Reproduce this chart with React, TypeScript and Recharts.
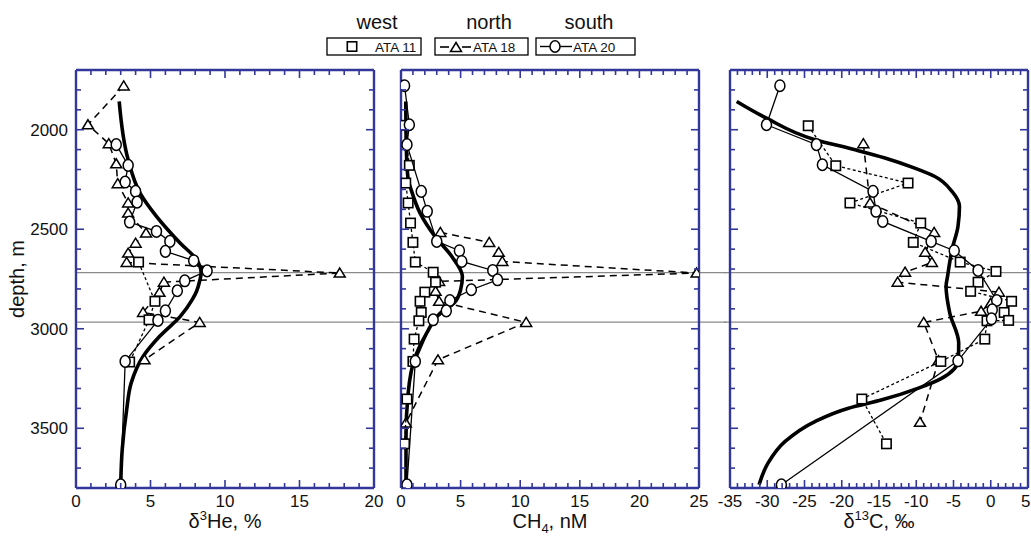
import { ScatterChart, Scatter, XAxis, YAxis, ReferenceLine, Label } from "recharts";

const FONT = '"Liberation Sans", Arial, Helvetica, sans-serif';
const BLUE = "#33379a";

type Pt = [number, number]; // [value, depth]

// depth axis
const depthDomain = [1700, 3800];
const depthTicks = [2000, 2500, 3000, 3500];
// grey marker depths
const markDepths = [2718, 2967];

// panel 1: delta 3He, %
const heTicks = [0, 5, 10, 15, 20];
const heAta11: Pt[] = [[4.2, 2665], [5.3, 2862], [4.9, 2955], [3.6, 3167]];
const heAta18: Pt[] = [
  [3.2, 1780], [0.8, 1975], [2.2, 2070], [2.7, 2171], [2.8, 2271], [3.5, 2368], [3.5, 2419],
  [4.7, 2519], [4.0, 2570], [3.5, 2620], [3.4, 2667], [17.7, 2720], [5.9, 2766], [5.6, 2817],
  [4.5, 2918], [8.3, 2968], [4.6, 3156],
];
const heAta20: Pt[] = [
  [2.7, 2075], [3.5, 2179], [3.3, 2263], [4.0, 2310], [4.1, 2364], [3.6, 2464], [5.4, 2511],
  [6.3, 2561], [6.0, 2611], [7.9, 2658], [8.8, 2709], [7.3, 2759], [6.8, 2809], [6.0, 2910],
  [5.5, 2958], [3.3, 3164], [3.0, 3784],
];
const heModel: Pt[] = [
  [2.9, 1858], [3.5, 2151], [4.3, 2318], [5.4, 2435], [7.0, 2570], [8.1, 2653], [8.4, 2720],
  [8.3, 2760], [8.1, 2810], [7.8, 2854], [7.0, 2938], [5.6, 3039], [4.5, 3139], [3.7, 3273],
  [3.4, 3407], [3.1, 3608], [3.0, 3784],
];

// panel 2: CH4, nM
const chTicks = [0, 5, 10, 15, 20, 25];
const chAta11: Pt[] = [
  [0.3, 1978], [0.7, 2179], [0.4, 2268], [0.6, 2368], [0.8, 2469], [1.0, 2566], [1.2, 2665],
  [2.7, 2716], [2.9, 2766], [2.0, 2816], [1.6, 2862], [1.7, 2918], [1.5, 2960], [1.1, 3052],
  [1.0, 3164], [0.5, 3353], [0.3, 3578],
];
const chAta18: Pt[] = [
  [3.3, 2516], [7.4, 2566], [8.2, 2616], [8.5, 2662], [24.8, 2720], [3.2, 2762], [2.9, 2812],
  [3.2, 2862], [10.5, 2968], [3.1, 3156], [0.4, 3474],
];
const chAta20: Pt[] = [
  [0.3, 1779], [0.7, 1975], [0.5, 2075], [1.7, 2310], [2.2, 2410], [3.0, 2561], [4.9, 2608],
  [5.1, 2662], [7.7, 2707], [8.1, 2754], [5.9, 2804], [4.1, 2858], [3.8, 2910], [2.7, 2955],
  [1.2, 3164], [0.5, 3784],
];
const chModel: Pt[] = [
  [0.4, 1858], [0.45, 2100], [0.6, 2250], [0.85, 2301], [1.6, 2419], [2.85, 2536], [4.25, 2636],
  [5.15, 2737], [5.0, 2804], [4.45, 2871], [3.3, 2921], [2.15, 3022], [1.2, 3139], [0.6, 3323],
  [0.42, 3541], [0.42, 3784],
];

// panel 3: delta 13C, permil
const cTicks = [-35, -30, -25, -20, -15, -10, -5, 0, 5];
const cAta11: Pt[] = [
  [-24.5, 1980], [-20.8, 2181], [-11.1, 2268], [-18.9, 2368], [-9.4, 2469], [-10.4, 2566],
  [-4.1, 2665], [0.7, 2712], [-1.7, 2766], [-2.7, 2812], [2.8, 2862], [1.8, 2918], [2.4, 2958],
  [-0.5, 2960], [-0.8, 3052], [-6.7, 3164], [-17.3, 3353], [-14.0, 3578],
];
const cAta18: Pt[] = [
  [-17.1, 2070], [-16.2, 2368], [-7.6, 2516], [-8.8, 2616], [-7.9, 2667], [-11.5, 2716],
  [-12.5, 2766], [1.1, 2816], [0.0, 2872], [-1.3, 2912], [-9.0, 2968], [-7.0, 3160], [-9.5, 3470],
];
const cAta20: Pt[] = [
  [-28.3, 1779], [-30.1, 1975], [-23.4, 2075], [-22.6, 2176], [-15.8, 2310], [-15.4, 2410],
  [-14.5, 2461], [-8.0, 2561], [-4.9, 2608], [-1.7, 2707], [0.8, 2858], [0.2, 2905], [0.1, 2950],
  [-4.4, 3161], [-28.1, 3784],
];
const cModel: Pt[] = [
  [-34.1, 1858], [-30.1, 1942], [-23.6, 2050], [-18.2, 2101], [-14.2, 2142], [-10.2, 2193],
  [-7.5, 2235], [-5.2, 2310], [-4.2, 2385], [-4.4, 2486], [-5.2, 2603], [-5.8, 2737], [-6.0, 2787],
  [-5.5, 2921], [-4.3, 3072], [-4.35, 3156], [-6.6, 3249], [-9.7, 3298], [-14.6, 3357],
  [-19.1, 3399], [-23.6, 3466], [-27.6, 3566], [-29.9, 3675], [-31.1, 3784],
];

const range = (a: number, b: number, step: number) => {
  const out: number[] = [];
  for (let v = a; v <= b + 1e-9; v += step) out.push(Math.round(v * 1000) / 1000);
  return out;
};
const rows = (pts: Pt[]) => pts.map(([v, d]) => ({ v, d }));

const Square = ({ cx, cy }: any) => (
  <rect x={cx - 4.7} y={cy - 4.7} width={9.4} height={9.4} fill="#fff" stroke="#000" strokeWidth={1.6} />
);
const Circle = ({ cx, cy }: any) => (
  <ellipse cx={cx} cy={cy} rx={5} ry={5.8} fill="#fff" stroke="#000" strokeWidth={1.5} />
);
const Triangle = ({ cx, cy }: any) => (
  <polygon
    points={`${cx},${cy - 5} ${cx + 5.5},${cy + 4} ${cx - 5.5},${cy + 4}`}
    fill="#fff"
    stroke="#000"
    strokeWidth={1.5}
  />
);
const NoDot = () => <g />;

const BottomTick = ({ x, y, payload, labels, endLast }: any) => {
  const major = labels.includes(payload.value);
  // last label of the right-most panel sits on the page edge, keep it inside
  const atEnd = endLast && payload.value === labels[labels.length - 1];
  return (
    <g>
      <line x1={x} y1={y} x2={x} y2={y - (major ? 8 : 5)} stroke={BLUE} strokeWidth={1.6} />
      {major && (
        <text x={atEnd ? x + 2.5 : x} y={y + 19} textAnchor={atEnd ? "end" : "middle"} fontSize={17}
          fontFamily={FONT} fill="#111">
          {payload.value}
        </text>
      )}
    </g>
  );
};
const TopTick = ({ x, y, payload, labels }: any) => {
  const major = labels.includes(payload.value);
  return <line x1={x} y1={y} x2={x} y2={y + (major ? 8 : 5)} stroke={BLUE} strokeWidth={1.6} />;
};
const LeftTick = ({ x, y, payload, labels }: any) => {
  const major = depthTicks.includes(payload.value);
  return (
    <g>
      <line x1={x} y1={y} x2={x + (major ? 8 : 5)} y2={y} stroke={BLUE} strokeWidth={1.6} />
      {labels.includes(payload.value) && (
        <text x={x - 8} y={y + 6} textAnchor="end" fontSize={17} fontFamily={FONT} fill="#111">
          {payload.value}
        </text>
      )}
    </g>
  );
};
const RightTick = ({ x, y, payload }: any) => {
  const major = depthTicks.includes(payload.value);
  return <line x1={x} y1={y} x2={x - (major ? 8 : 5)} y2={y} stroke={BLUE} strokeWidth={1.6} />;
};

const axisLine = { stroke: BLUE, strokeWidth: 2.4 };

const Panel = ({ left, width, margin, domain, ticks, span, title, showDepth, endLast, model, a11, a18, a20 }: any) => {
  const xMinor = range(domain[0], domain[1], 1);
  const yMinor = range(depthDomain[0], depthDomain[1], 100);
  const common = { type: "number" as const, allowDataOverflow: true, tickSize: 0, tickMargin: 0, tickLine: false, axisLine };
  return (
    <div style={{ position: "absolute", left, top: 0 }}>
      <ScatterChart width={width} height={536} margin={margin}>
        <XAxis xAxisId="b" dataKey="v" domain={domain} ticks={xMinor} interval={0} height={1} {...common}
          tick={(p: any) => <BottomTick {...p} labels={ticks} endLast={endLast} />}>
          <Label
            content={(p: any) => (
              <text x={p.viewBox.x + p.viewBox.width / 2} y={p.viewBox.y + 40} textAnchor="middle"
                fontSize={20} fontFamily={FONT} fill="#111">
                {title}
              </text>
            )}
          />
        </XAxis>
        <XAxis xAxisId="t" orientation="top" dataKey="v" domain={domain} ticks={xMinor} interval={0} height={1} {...common}
          tick={(p: any) => <TopTick {...p} labels={ticks} />} />
        <YAxis yAxisId="l" dataKey="d" domain={depthDomain} reversed ticks={yMinor} interval={0} width={1} {...common}
          tick={(p: any) => <LeftTick {...p} labels={showDepth ? depthTicks : []} />}>
          {showDepth && (
            <Label
              content={(p: any) => {
                const cy = p.viewBox.y + p.viewBox.height / 2;
                return (
                  <text x={24} y={cy} transform={`rotate(-90, 24, ${cy})`} textAnchor="middle"
                    fontSize={20} fontFamily={FONT} fill="#111">
                    depth, m
                  </text>
                );
              }}
            />
          )}
        </YAxis>
        <YAxis yAxisId="r" orientation="right" dataKey="d" domain={depthDomain} reversed ticks={yMinor} interval={0} width={1} {...common}
          tick={(p: any) => <RightTick {...p} />} />
        {markDepths.map((d) => (
          <ReferenceLine key={d} xAxisId="b" yAxisId="l" ifOverflow="visible" stroke="#8a8a8a" strokeWidth={1.2}
            segment={[{ x: span[0], y: d }, { x: span[1], y: d }]} />
        ))}
        <Scatter xAxisId="b" yAxisId="l" data={rows(model)} shape={NoDot} line={{ stroke: "#000", strokeWidth: 3.6 }}
          lineJointType="monotoneY" isAnimationActive={false} />
        <Scatter xAxisId="b" yAxisId="l" data={rows(a18)} shape={Triangle}
          line={{ stroke: "#000", strokeWidth: 1.5, strokeDasharray: "7 5" }} isAnimationActive={false} />
        <Scatter xAxisId="b" yAxisId="l" data={rows(a11)} shape={Square}
          line={{ stroke: "#000", strokeWidth: 1.3, strokeDasharray: "3 2.5" }} isAnimationActive={false} />
        <Scatter xAxisId="b" yAxisId="l" data={rows(a20)} shape={Circle}
          line={{ stroke: "#000", strokeWidth: 1.3 }} isAnimationActive={false} />
      </ScatterChart>
    </div>
  );
};

const LegendBar = () => (
  <svg width={1031} height={64} style={{ position: "absolute", left: 0, top: 0 }} fontFamily={FONT}>
    <text x={377} y={29} textAnchor="middle" fontSize={20} fill="#111">west</text>
    <text x={489} y={29} textAnchor="middle" fontSize={20} fill="#111">north</text>
    <text x={589} y={29} textAnchor="middle" fontSize={20} fill="#111">south</text>

    <rect x={327} y={38} width={94} height={17} fill="none" stroke="#000" strokeWidth={1.3} />
    <Square cx={352} cy={46.5} />
    <text x={375} y={51.5} fontSize={13.5} fill="#111">ATA 11</text>

    <rect x={435} y={38} width={93} height={17} fill="none" stroke="#000" strokeWidth={1.3} />
    <line x1={440} y1={47} x2={449} y2={47} stroke="#000" strokeWidth={1.6} />
    <line x1={462} y1={47} x2={471} y2={47} stroke="#000" strokeWidth={1.6} />
    <Triangle cx={456} cy={47.5} />
    <text x={473} y={51.5} fontSize={13.5} fill="#111">ATA 18</text>

    <rect x={536} y={38} width={99} height={17} fill="none" stroke="#000" strokeWidth={1.3} />
    <line x1={540} y1={46.5} x2={572} y2={46.5} stroke="#000" strokeWidth={1.4} />
    <Circle cx={555} cy={46.5} />
    <text x={573} y={51.5} fontSize={13.5} fill="#111">ATA 20</text>
  </svg>
);

const App = () => (
  <div style={{ position: "absolute", left: 0, top: 0, width: 1031, height: 536, background: "#fff", fontFamily: FONT, overflow: "hidden" }}>
    <style>{`.recharts-surface { overflow: visible; }`}</style>
    <Panel left={0} width={395} margin={{ top: 69, right: 20, bottom: 47, left: 75 }} domain={[0, 20]} ticks={heTicks}
      span={[0, 21.4]} showDepth model={heModel} a11={heAta11} a18={heAta18} a20={heAta20}
      title={<><tspan>δ</tspan><tspan dy={-8} fontSize={13}>3</tspan><tspan dy={8}>He, %</tspan></>} />
    <Panel left={395} width={329} margin={{ top: 69, right: 24, bottom: 47, left: 5 }} domain={[0, 25]} ticks={chTicks}
      span={[-0.5, 27.3]} model={chModel} a11={chAta11} a18={chAta18} a20={chAta20}
      title={<><tspan>CH</tspan><tspan dy={5} fontSize={13}>4</tspan><tspan dy={-5}>, nM</tspan></>} />
    <Panel left={724} width={307} margin={{ top: 69, right: 2, bottom: 47, left: 5 }} domain={[-35, 5]} ticks={cTicks}
      span={[-35.8, 6]} endLast model={cModel} a11={cAta11} a18={cAta18} a20={cAta20}
      title={<><tspan>δ</tspan><tspan dy={-8} fontSize={13}>13</tspan><tspan dy={8}>C, ‰</tspan></>} />
    <LegendBar />
  </div>
);

export default App;
